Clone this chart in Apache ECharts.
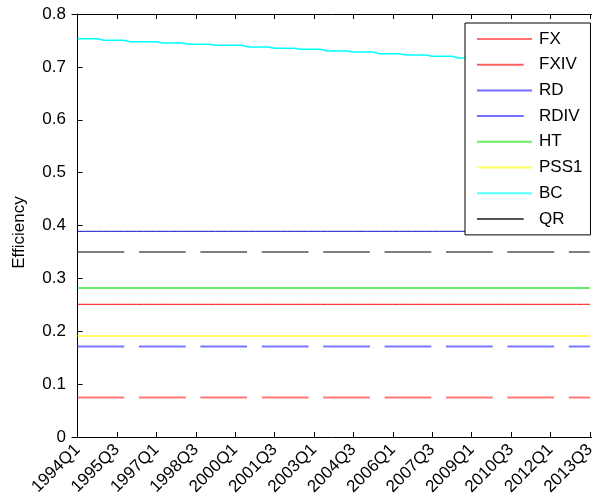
<!DOCTYPE html>
<html>
<head>
<meta charset="utf-8">
<script src="https://cdn.jsdelivr.net/npm/echarts@6/dist/echarts.min.js"></script>
<style>
  html, body { margin: 0; padding: 0; background: #fff; }
  #chart { width: 592px; height: 504px; }
</style>
</head>
<body>
<div id="chart"></div>
<script>
// Quarterly periods, 1994Q1 .. 2013Q3
const quarters = [];
for (let y = 1994; y <= 2013; y++) {
  for (let q = 1; q <= 4; q++) {
    if (y === 2013 && q > 3) break;
    quarters.push(y + 'Q' + q);
  }
}

// Labelled ticks on the time axis
const tickLabels = ['1994Q1', '1995Q3', '1997Q1', '1998Q3', '2000Q1', '2001Q3', '2003Q1',
  '2004Q3', '2006Q1', '2007Q3', '2009Q1', '2010Q3', '2012Q1', '2013Q3'];

// Efficiency levels that stay flat over the sample
const FX = 0.251;
const FXIV = 0.0745;
const RD = 0.389;
const RDIV = 0.171;
const HT = 0.282;
const PSS1 = 0.191;
const QR = 0.350;

// BC efficiency by quarter
const BC = [
  0.7533, 0.7533, 0.7533, 0.7533,
  0.7503, 0.7503, 0.7503, 0.7503,
  0.7476, 0.7476, 0.7476, 0.7476, 0.7476,
  0.7452, 0.7452, 0.7452, 0.7452,
  0.7427, 0.7427, 0.7427, 0.7427,
  0.7408, 0.7408, 0.7408, 0.7408, 0.7408,
  0.7376, 0.7376, 0.7376, 0.7376,
  0.7351, 0.7351, 0.7351, 0.7351,
  0.7332, 0.7332, 0.7332, 0.7332,
  0.7300, 0.7300, 0.7300, 0.7300,
  0.7281, 0.7281, 0.7281, 0.7281,
  0.7249, 0.7249, 0.7249, 0.7249,
  0.7225, 0.7225, 0.7225, 0.7225,
  0.7200, 0.7200, 0.7200, 0.7200,
  0.7168, 0.7168, 0.7168, 0.7168,
  0.7139, 0.7139, 0.7139, 0.7139,
  0.7111, 0.7111, 0.7111, 0.7111,
  0.7087, 0.7087, 0.7087, 0.7087,
  0.7060, 0.7060, 0.7060, 0.7060, 0.7060
];

const FONT = 'Liberation Sans, Arial, sans-serif';
const FS = 17;
const DASH = [46.7, 14.7];
const tickIdx = tickLabels.map(l => quarters.indexOf(l));

const flat = v => quarters.map((q, i) => [i, v]);
const varying = arr => arr.map((v, i) => [i, v]);

function line(name, data, color, width, type) {
  return {
    name: name,
    type: 'line',
    data: data,
    symbol: 'none',
    silent: true,
    animation: false,
    lineStyle: { color: color, width: width, type: type || 'solid' }
  };
}

const series = [
  line('FX', flat(FX), '#ff0000', 1),
  line('FXIV', flat(FXIV), '#ff7777', 2, DASH),
  line('RD', flat(RD), '#1010c8', 1),
  line('RDIV', flat(RDIV), '#7777ff', 2, DASH),
  line('HT', flat(HT), '#66ee66', 2),
  line('PSS1', flat(PSS1), '#ffff66', 2),
  line('BC', varying(BC), '#00ffff', 1.6),
  line('QR', flat(QR), '#555555', 1.6, DASH)
];

// Legend swatches are a touch lighter than the plotted lines
const legendColors = {
  FX: '#ff7070', FXIV: '#ff6060', RD: '#7070ff', RDIV: '#7070ff',
  HT: '#66ee66', PSS1: '#ffff55', BC: '#55ffff', QR: '#555555'
};

const chart = echarts.init(document.getElementById('chart'), null, { renderer: 'canvas' });
chart.setOption({
  animation: false,
  backgroundColor: '#ffffff',
  textStyle: { fontFamily: FONT },
  grid: { left: 72, top: 14, width: 531, height: 423, outerBoundsMode: 'none', containLabel: false },
  legend: {
    orient: 'vertical',
    left: 465,
    top: 23,
    padding: [7.5, 8, 7.5, 11],
    itemWidth: 55,
    itemHeight: 17,
    itemGap: 8.7,
    backgroundColor: '#ffffff',
    borderColor: '#000000',
    borderWidth: 1,
    borderRadius: 0,
    selectedMode: false,
    itemStyle: { opacity: 0 },
    lineStyle: { width: 2 },
    textStyle: { fontSize: FS, color: '#000', fontFamily: FONT, padding: [0, 0, 0, 2] },
    data: series.map(s => ({
      name: s.name,
      lineStyle: { color: legendColors[s.name], width: 2, type: s.lineStyle.type }
    }))
  },
  xAxis: [
    {
      type: 'value',
      position: 'bottom',
      min: -0.85,
      max: 80,
      splitLine: { show: false },
      axisLine: { lineStyle: { color: '#000', width: 1 } },
      axisTick: { inside: true, length: 5, customValues: tickIdx, lineStyle: { color: '#000' } },
      axisLabel: {
        customValues: tickIdx,
        formatter: v => quarters[Math.round(v)],
        rotate: 45,
        margin: 10,
        fontSize: FS,
        color: '#000',
        fontFamily: FONT
      }
    },
    {
      type: 'value',
      position: 'top',
      min: -0.85,
      max: 80,
      splitLine: { show: false },
      axisLine: { lineStyle: { color: '#000', width: 1 } },
      axisTick: { inside: true, length: 5, customValues: tickIdx, lineStyle: { color: '#000' } },
      axisLabel: { show: false }
    }
  ],
  yAxis: {
    type: 'value',
    min: 0,
    max: 0.8,
    interval: 0.1,
    name: 'Efficiency',
    nameLocation: 'middle',
    nameGap: 44,
    nameTextStyle: { fontSize: FS, color: '#000', fontFamily: FONT, padding: [0, 14, 0, 0] },
    splitLine: { show: false },
    axisLine: { lineStyle: { color: '#000', width: 1 } },
    axisTick: { inside: true, length: 5, lineStyle: { color: '#000' } },
    axisLabel: { fontSize: FS, color: '#000', margin: 6, fontFamily: FONT }
  },
  series: series
});
</script>
</body>
</html>
